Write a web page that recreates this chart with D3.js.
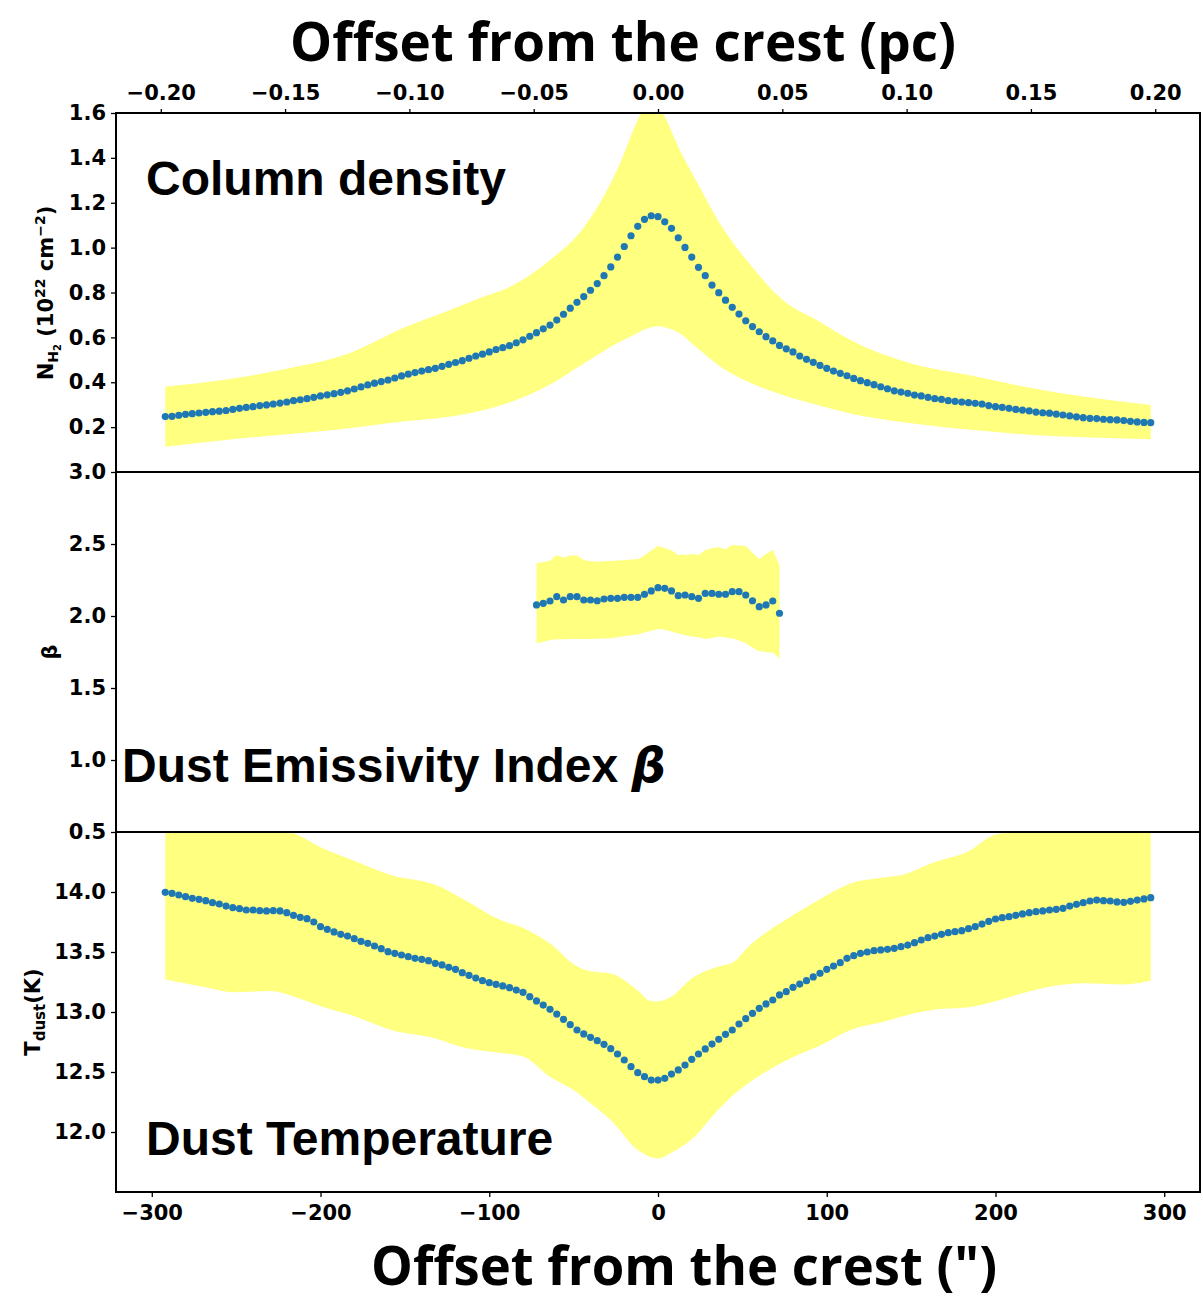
<!DOCTYPE html>
<html>
<head>
<meta charset="utf-8">
<script src="https://cdn.jsdelivr.net/npm/d3@7"></script>
<style>
  body { margin: 0; background: #fff; }
  .tick text { font-family: "DejaVu Sans", sans-serif; font-weight: bold; font-size: 21px; fill: #000; }
  .tick line { stroke: #000; stroke-width: 1.3; }
</style>
</head>
<body>
<svg id="chart"></svg>
<script>
// offsets from the crest, arcsec
var offsets = [-292,-288,-284,-280,-276,-272,-268,-264,-260,-256,-252,-248,-244,-240,-236,-232,-228,-224,-220,-216,
  -212,-208,-204,-200,-196,-192,-188,-184,-180,-176,-172,-168,-164,-160,-156,-152,-148,-144,-140,-136,
  -132,-128,-124,-120,-116,-112,-108,-104,-100,-96,-92,-88,-84,-80,-76,-72,-68,-64,-60,-56,
  -52,-48,-44,-40,-36,-32,-28,-24,-20,-16,-12,-8,-4,0,4,8,12,16,20,24,
  28,32,36,40,44,48,52,56,60,64,68,72,76,80,84,88,92,96,100,104,
  108,112,116,120,124,128,132,136,140,144,148,152,156,160,164,168,172,176,180,184,
  188,192,196,200,204,208,212,216,220,224,228,232,236,240,244,248,252,256,260,264,
  268,272,276,280,284,288,292];

// column density N_H2 (1e22 cm-2)
var colDensity = [0.247,0.248,0.253,0.257,0.260,0.263,0.266,0.269,0.271,0.274,0.279,0.284,0.288,0.291,0.296,0.299,0.303,0.307,0.312,0.318,
  0.322,0.327,0.333,0.339,0.344,0.349,0.355,0.362,0.370,0.379,0.388,0.396,0.403,0.410,0.419,0.428,0.436,0.443,0.450,0.456,
  0.462,0.471,0.480,0.488,0.496,0.507,0.517,0.525,0.535,0.546,0.554,0.563,0.576,0.589,0.605,0.621,0.638,0.655,0.677,0.703,
  0.730,0.756,0.782,0.810,0.840,0.875,0.914,0.958,1.005,1.053,1.095,1.126,1.142,
  1.138,1.115,1.086,1.044,1.001,0.958,0.912,0.875,0.833,0.799,0.766,0.734,0.704,0.674,0.648,0.625,0.603,0.584,0.564,0.549,
  0.535,0.517,0.502,0.489,0.475,0.462,0.450,0.440,0.429,0.417,0.407,0.398,0.389,0.380,0.371,0.362,0.356,0.351,0.343,0.339,
  0.333,0.327,0.324,0.318,0.315,0.312,0.309,0.306,0.303,0.296,0.291,0.288,0.284,0.279,0.276,0.272,0.267,0.264,0.262,0.258,
  0.254,0.250,0.246,0.242,0.239,0.238,0.235,0.233,0.232,0.229,0.226,0.223,0.221,0.220];

var colBandX  = [-292,-256,-220,-186,-150,-124,-104,-88,-64,-44,-24,-12,-8,-4,0,4,12,24,36,54,74,94,114,150,184,222,252,292];
var colBandHi = [0.380,0.412,0.460,0.521,0.645,0.720,0.780,0.825,0.945,1.090,1.350,1.570,1.630,1.660,1.640,1.585,1.450,1.280,1.115,0.930,0.766,0.677,0.588,0.484,0.432,0.373,0.336,0.299];
var colBandLo = [0.113,0.143,0.168,0.193,0.226,0.246,0.275,0.310,0.390,0.484,0.575,0.620,0.635,0.645,0.651,0.645,0.622,0.548,0.475,0.400,0.343,0.300,0.261,0.217,0.189,0.165,0.155,0.146];

// dust emissivity index beta
var betaOffsets = [-72,-68,-64,-60,-56,-52,-48,-44,-40,-36,-32,-28,-24,-20,-16,-12,-8,-4,0,4,8,12,16,20,24,28,32,36,40,44,48,52,56,60,64,68,72];
var beta   = [2.077,2.088,2.104,2.134,2.111,2.134,2.134,2.111,2.111,2.106,2.118,2.123,2.123,2.130,2.130,2.130,2.151,2.174,2.197,2.192,
  2.174,2.141,2.146,2.134,2.123,2.157,2.157,2.151,2.151,2.169,2.169,2.146,2.106,2.065,2.077,2.104,2.019];
var betaHi = [2.366,2.375,2.384,2.424,2.405,2.421,2.421,2.389,2.380,2.377,2.380,2.382,2.385,2.388,2.392,2.394,2.420,2.455,2.486,2.472,
  2.455,2.424,2.426,2.428,2.424,2.458,2.470,2.477,2.463,2.493,2.490,2.486,2.440,2.396,2.430,2.458,2.354];
var betaLo = [1.810,1.822,1.833,1.838,1.839,1.840,1.840,1.840,1.841,1.842,1.844,1.845,1.852,1.860,1.866,1.872,1.885,1.898,1.910,1.905,
  1.892,1.878,1.866,1.857,1.852,1.840,1.848,1.857,1.850,1.845,1.830,1.810,1.780,1.755,1.750,1.745,1.706];

// dust temperature (K)
var tDust = [13.997,13.989,13.975,13.961,13.947,13.939,13.928,13.911,13.900,13.883,13.869,13.861,13.850,13.850,13.844,13.842,13.844,13.842,13.828,13.806,
  13.789,13.778,13.750,13.711,13.689,13.667,13.647,13.633,13.611,13.589,13.572,13.550,13.528,13.503,13.489,13.475,13.461,13.447,13.439,13.428,
  13.406,13.392,13.372,13.356,13.328,13.306,13.283,13.261,13.244,13.231,13.217,13.203,13.183,13.164,13.128,13.092,13.058,13.022,12.983,12.939,
  12.894,12.850,12.817,12.789,12.761,12.731,12.694,12.650,12.600,12.544,12.494,12.461,12.433,
  12.433,12.447,12.483,12.517,12.558,12.606,12.650,12.692,12.733,12.772,12.814,12.850,12.900,12.944,12.989,13.031,13.067,13.100,13.142,13.169,
  13.206,13.233,13.261,13.292,13.322,13.356,13.383,13.411,13.447,13.469,13.489,13.500,13.511,13.517,13.522,13.531,13.544,13.558,13.578,13.600,
  13.619,13.633,13.647,13.661,13.669,13.678,13.694,13.711,13.733,13.756,13.775,13.786,13.794,13.806,13.817,13.828,13.836,13.842,13.850,13.856,
  13.864,13.883,13.897,13.911,13.925,13.933,13.928,13.925,13.917,13.914,13.922,13.933,13.942,13.953];

var tBandX  = [-292,-266,-252,-230,-216,-198,-182,-158,-132,-114,-94,-80,-64,-48,-40,-28,-12,-4,0,8,20,36,44,54,78,96,114,134,144,164,184,200,212,222,252,276,292];
var tBandHi = [14.65,14.63,14.60,14.54,14.49,14.36,14.27,14.14,14.06,13.93,13.77,13.70,13.57,13.38,13.34,13.32,13.18,13.09,13.09,13.13,
  13.28,13.38,13.41,13.55,13.79,13.94,14.07,14.12,14.14,14.25,14.34,14.48,14.50,14.55,14.60,14.62,14.65];
var tBandLo = [13.27,13.20,13.165,13.175,13.13,13.04,12.975,12.85,12.78,12.70,12.66,12.63,12.46,12.33,12.24,12.10,11.85,11.79,11.78,11.83,
  11.94,12.19,12.30,12.41,12.61,12.72,12.85,12.92,12.96,13.02,13.04,13.09,13.14,13.18,13.24,13.23,13.26];

// ticks
var xTicks = [-300,-200,-100,0,100,200,300];
var pcTicks = [-0.20,-0.15,-0.10,-0.05,0.00,0.05,0.10,0.15,0.20];
var colTicks = [0.2,0.4,0.6,0.8,1.0,1.2,1.4,1.6];
var betaTicks = [0.5,1.0,1.5,2.0,2.5,3.0];
var tTicks = [12.0,12.5,13.0,13.5,14.0];

var PC_PER_ARCSEC = 140 / 206265;   // d = 140 pc

var W = 1203, H = 1303;
var left = 116, right = 1200;
var panels = [[113, 472], [472, 832], [832, 1192]];

var svg = d3.select("#chart").attr("width", W).attr("height", H);

var x = d3.scaleLinear().domain([-321.2, 321.2]).range([left, right]);
var xpc = d3.scaleLinear().domain([-321.2 * PC_PER_ARCSEC, 321.2 * PC_PER_ARCSEC]).range([left, right]);
var yCol = d3.scaleLinear().domain([0, 1.6]).range([panels[0][1], panels[0][0]]);
var yBeta = d3.scaleLinear().domain([0.5, 3.0]).range([panels[1][1], panels[1][0]]);
var yT = d3.scaleLinear().domain([11.5, 14.5]).range([panels[2][1], panels[2][0]]);

var defs = svg.append("defs");
panels.forEach(function(p, i){
  defs.append("clipPath").attr("id", "clip" + i)
    .append("rect").attr("x", left).attr("y", p[0]).attr("width", right - left).attr("height", p[1] - p[0]);
});

var BAND = "#ffff80", DOT = "#1f77b4";

function drawPanel(idx, y, bx, hi, lo, curve, px, vals){
  var g = svg.append("g").attr("clip-path", "url(#clip" + idx + ")");
  var area = d3.area()
    .x(function(d, i){ return x(bx[i]); })
    .y0(function(d, i){ return y(lo[i]); })
    .y1(function(d, i){ return y(hi[i]); })
    .curve(curve);
  g.append("path").datum(bx).attr("d", area).attr("fill", BAND);
  g.selectAll("circle").data(vals).enter().append("circle")
    .attr("cx", function(d, i){ return x(px[i]); })
    .attr("cy", function(d){ return y(d); })
    .attr("r", 3.6)
    .attr("fill", DOT);
}

drawPanel(0, yCol, colBandX, colBandHi, colBandLo, d3.curveMonotoneX, offsets, colDensity);
drawPanel(1, yBeta, betaOffsets, betaHi, betaLo, d3.curveLinear, betaOffsets, beta);
drawPanel(2, yT, tBandX, tBandHi, tBandLo, d3.curveMonotoneX, offsets, tDust);

// frames
panels.forEach(function(p){
  svg.append("rect").attr("x", left).attr("y", p[0]).attr("width", right - left).attr("height", p[1] - p[0])
    .attr("fill", "none").attr("stroke", "#000").attr("stroke-width", 2);
});

function styleAxis(g){
  g.select(".domain").remove();
}

var minus = function(s){ return s.replace("-", "\u2212"); };

svg.append("g").attr("transform", "translate(0," + panels[0][0] + ")")
  .call(d3.axisTop(xpc).tickValues(pcTicks).tickSize(4).tickPadding(9)
    .tickFormat(function(d){ return minus(d3.format(".2f")(d)); }))
  .call(styleAxis);

svg.append("g").attr("transform", "translate(0," + panels[2][1] + ")")
  .call(d3.axisBottom(x).tickValues(xTicks).tickSize(5).tickPadding(8)
    .tickFormat(function(d){ return minus(String(d)); }))
  .call(styleAxis);

[[yCol, colTicks], [yBeta, betaTicks], [yT, tTicks]].forEach(function(a){
  svg.append("g").attr("transform", "translate(" + left + ",0)")
    .call(d3.axisLeft(a[0]).tickValues(a[1]).tickSize(5).tickPadding(5).tickFormat(d3.format(".1f")))
    .call(styleAxis);
});

// y axis labels
var lab = "font-family:'DejaVu Sans',sans-serif;font-weight:bold;font-size:21px";
var t1 = svg.append("text").attr("transform", "translate(53,293) rotate(-90)")
  .attr("text-anchor", "middle").attr("style", lab);
t1.append("tspan").text("N");
t1.append("tspan").attr("font-size", 14).attr("dy", 5).text("H");
t1.append("tspan").attr("font-size", 10).attr("dy", 3).text("2");
t1.append("tspan").attr("dy", -8).text(" (10");
t1.append("tspan").attr("font-size", 14).attr("dy", -8).text("22");
t1.append("tspan").attr("dy", 8).text(" cm");
t1.append("tspan").attr("font-size", 14).attr("dy", -8).text("\u22122");
t1.append("tspan").attr("dy", 8).text(")");

svg.append("text").attr("transform", "translate(57,652) rotate(-90)")
  .attr("text-anchor", "middle").attr("style", lab).text("\u03b2");

var t3 = svg.append("text").attr("transform", "translate(40,1012) rotate(-90)")
  .attr("text-anchor", "middle").attr("style", lab);
t3.append("tspan").text("T");
t3.append("tspan").attr("font-size", 15).attr("dy", 5).text("dust");
t3.append("tspan").attr("dy", -5).text("(K)");

// panel titles
var big = "font-family:'Liberation Sans',Arial,sans-serif;font-weight:bold;font-size:48px";
svg.append("text").attr("x", 146).attr("y", 195).attr("style", big).text("Column density");
var tb = svg.append("text").attr("x", 122).attr("y", 782).attr("style", big);
tb.append("tspan").text("Dust Emissivity Index ");
tb.append("tspan").attr("font-style", "italic").attr("font-family", "'DejaVu Sans',sans-serif").text("\u03b2");
svg.append("text").attr("x", 146).attr("y", 1155).attr("style", big).text("Dust Temperature");

// axis titles
var ttl = "font-family:'Open Sans',sans-serif;font-weight:bold;font-size:53px";
svg.append("text").attr("x", 290).attr("y", 61).attr("style", ttl)
  .attr("textLength", 666).attr("lengthAdjust", "spacingAndGlyphs").text("Offset from the crest (pc)");
svg.append("text").attr("x", 371).attr("y", 1285).attr("style", ttl)
  .attr("textLength", 626).attr("lengthAdjust", "spacingAndGlyphs").text("Offset from the crest (\")");
</script>
</body>
</html>
